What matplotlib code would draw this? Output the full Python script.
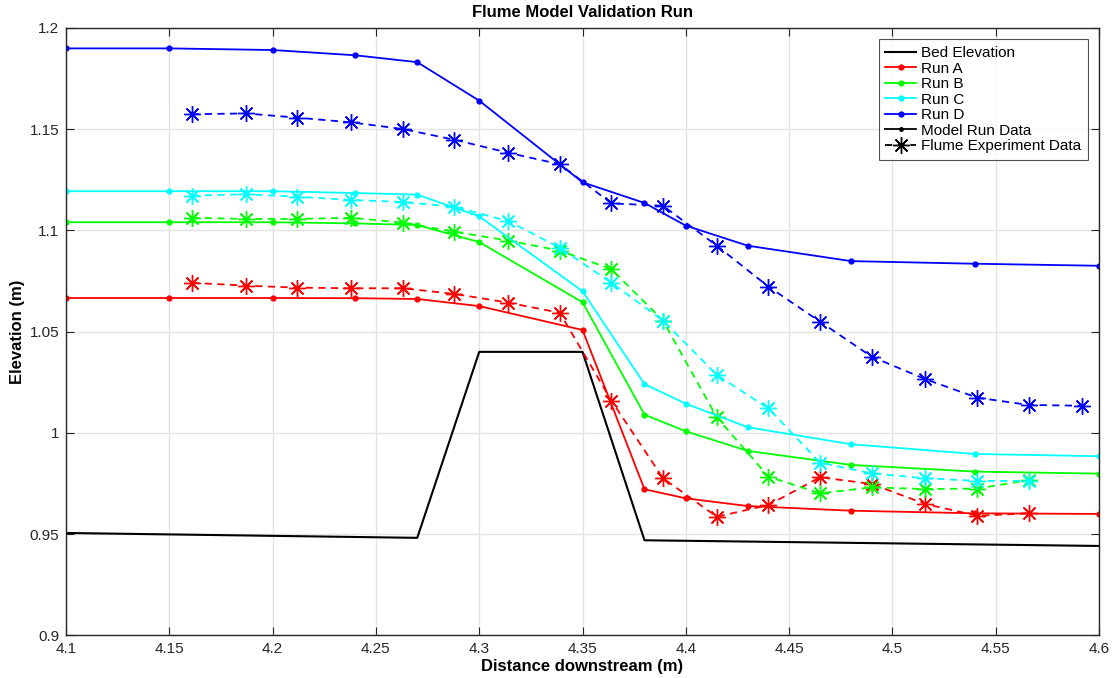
import numpy as np
import matplotlib
matplotlib.use('Agg')
import matplotlib.pyplot as plt
from matplotlib.lines import Line2D

plt.rcParams['font.family'] = ['Liberation Sans', 'DejaVu Sans']

# bed profile
bed_x = [4.10, 4.27, 4.30, 4.35, 4.38, 4.60]
bed_y = [0.9506, 0.9482, 1.0400, 1.0400, 0.9470, 0.9442]

# model run data
model_x = [4.10, 4.15, 4.20, 4.24, 4.27, 4.30, 4.35, 4.38, 4.40, 4.43, 4.48, 4.54, 4.60]
model_a = [1.0666, 1.0666, 1.0666, 1.0665, 1.0661, 1.0626, 1.0508, 0.9722, 0.9677, 0.9639, 0.9616, 0.9603, 0.9600]
model_b = [1.1040, 1.1040, 1.1040, 1.1034, 1.1026, 1.0942, 1.0645, 1.0090, 1.0008, 0.9911, 0.9842, 0.9809, 0.9799]
model_c = [1.1193, 1.1193, 1.1193, 1.1184, 1.1176, 1.1069, 1.0699, 1.0241, 1.0144, 1.0028, 0.9944, 0.9896, 0.9885]
model_d = [1.1898, 1.1898, 1.1890, 1.1864, 1.1830, 1.1640, 1.1237, 1.1135, 1.1023, 1.0924, 1.0848, 1.0835, 1.0825]

# flume experiment data
flume_x = [4.161, 4.187, 4.212, 4.238, 4.263, 4.288, 4.314, 4.339, 4.364,
           4.389, 4.415, 4.440, 4.465, 4.490, 4.516, 4.541, 4.566, 4.592]
flume_a = [1.0741, 1.0727, 1.0717, 1.0714, 1.0714, 1.0686, 1.0643, 1.0593, 1.0159,
           0.9776, 0.9586, 0.9644, 0.9781, 0.9748, 0.9649, 0.9591, 0.9603]
flume_b = [1.1062, 1.1056, 1.1056, 1.1062, 1.1038, 1.0993, 1.0949, 1.0900, 1.0808,
           1.0554, 1.0077, 0.9784, 0.9702, 0.9731, 0.9723, 0.9725, 0.9767]
flume_c = [1.1171, 1.1178, 1.1166, 1.1150, 1.1140, 1.1116, 1.1046, 1.0914, 1.0741,
           1.0554, 1.0286, 1.0121, 0.9853, 0.9800, 0.9776, 0.9763, 0.9763]
flume_d = [1.1573, 1.1577, 1.1556, 1.1533, 1.1500, 1.1447, 1.1383, 1.1326, 1.1133,
           1.1121, 1.0924, 1.0722, 1.0549, 1.0376, 1.0265, 1.0174, 1.0138, 1.0134]

colors = {'A': '#ff0000', 'B': '#00ff00', 'C': '#00ffff', 'D': '#0000ff'}
ast = (8, 2, 0)  # matlab-like asterisk

fig = plt.figure(figsize=(11.12, 6.78), dpi=100)
ax = fig.add_axes([0.0594, 0.0627, 0.9289, 0.8964])

ax.plot(bed_x, bed_y, color='black', lw=1.5)

runs = [('A', model_a, flume_a), ('B', model_b, flume_b),
        ('C', model_c, flume_c), ('D', model_d, flume_d)]
for name, m, f in runs:
    c = colors[name]
    ax.plot(model_x, m, color=c, lw=1.3, marker='o', ms=3.5)
    ax.plot(flume_x[:len(f)], f, color=c, lw=1.3, ls=(0, (4, 3)),
            marker=ast, ms=12, mew=1.0)

ax.set_xlim(4.1, 4.6)
ax.set_ylim(0.9, 1.2)
ax.set_xticks(np.arange(4.1, 4.6001, 0.05))
ax.set_xticklabels(['4.1', '4.15', '4.2', '4.25', '4.3', '4.35', '4.4', '4.45', '4.5', '4.55', '4.6'])
ax.set_yticks(np.arange(0.9, 1.2001, 0.05))
ax.set_yticklabels(['0.9', '0.95', '1', '1.05', '1.1', '1.15', '1.2'])
ax.tick_params(direction='in', length=6, labelsize=11, colors='#262626',
               top=True, right=True)
ax.tick_params(axis='x', pad=5)
ax.tick_params(axis='y', pad=5)
ax.grid(True, color='#e3e3e3', lw=1)
ax.set_axisbelow(True)
for s in ax.spines.values():
    s.set_color('#262626')
    s.set_linewidth(1)

ax.set_title('Flume Model Validation Run', fontsize=12, fontweight='bold', pad=8)
ax.set_xlabel('Distance downstream (m)', fontsize=12, fontweight='bold', labelpad=2)
ax.set_ylabel('Elevation (m)', fontsize=12, fontweight='bold', labelpad=3)

handles = [
    Line2D([], [], color='black', lw=1.5),
    Line2D([], [], color=colors['A'], lw=1.3, marker='o', ms=3.5),
    Line2D([], [], color=colors['B'], lw=1.3, marker='o', ms=3.5),
    Line2D([], [], color=colors['C'], lw=1.3, marker='o', ms=3.5),
    Line2D([], [], color=colors['D'], lw=1.3, marker='o', ms=3.5),
    Line2D([], [], color='black', lw=1.3, marker='o', ms=2.5),
    Line2D([], [], color='black', lw=1.3, ls=(0, (4, 3)), marker=ast, ms=12, mew=1.0),
]
labels = ['Bed Elevation', 'Run A', 'Run B', 'Run C', 'Run D',
          'Model Run Data', 'Flume Experiment Data']
leg = ax.legend(handles, labels, loc='upper right', fontsize=11, frameon=True,
                fancybox=False, edgecolor='#262626', handlelength=2.0,
                handletextpad=0.3, labelspacing=0.1, borderpad=0.45,
                borderaxespad=0.75)
leg.get_frame().set_linewidth(0.8)

fig.savefig('out.png', dpi=100)
